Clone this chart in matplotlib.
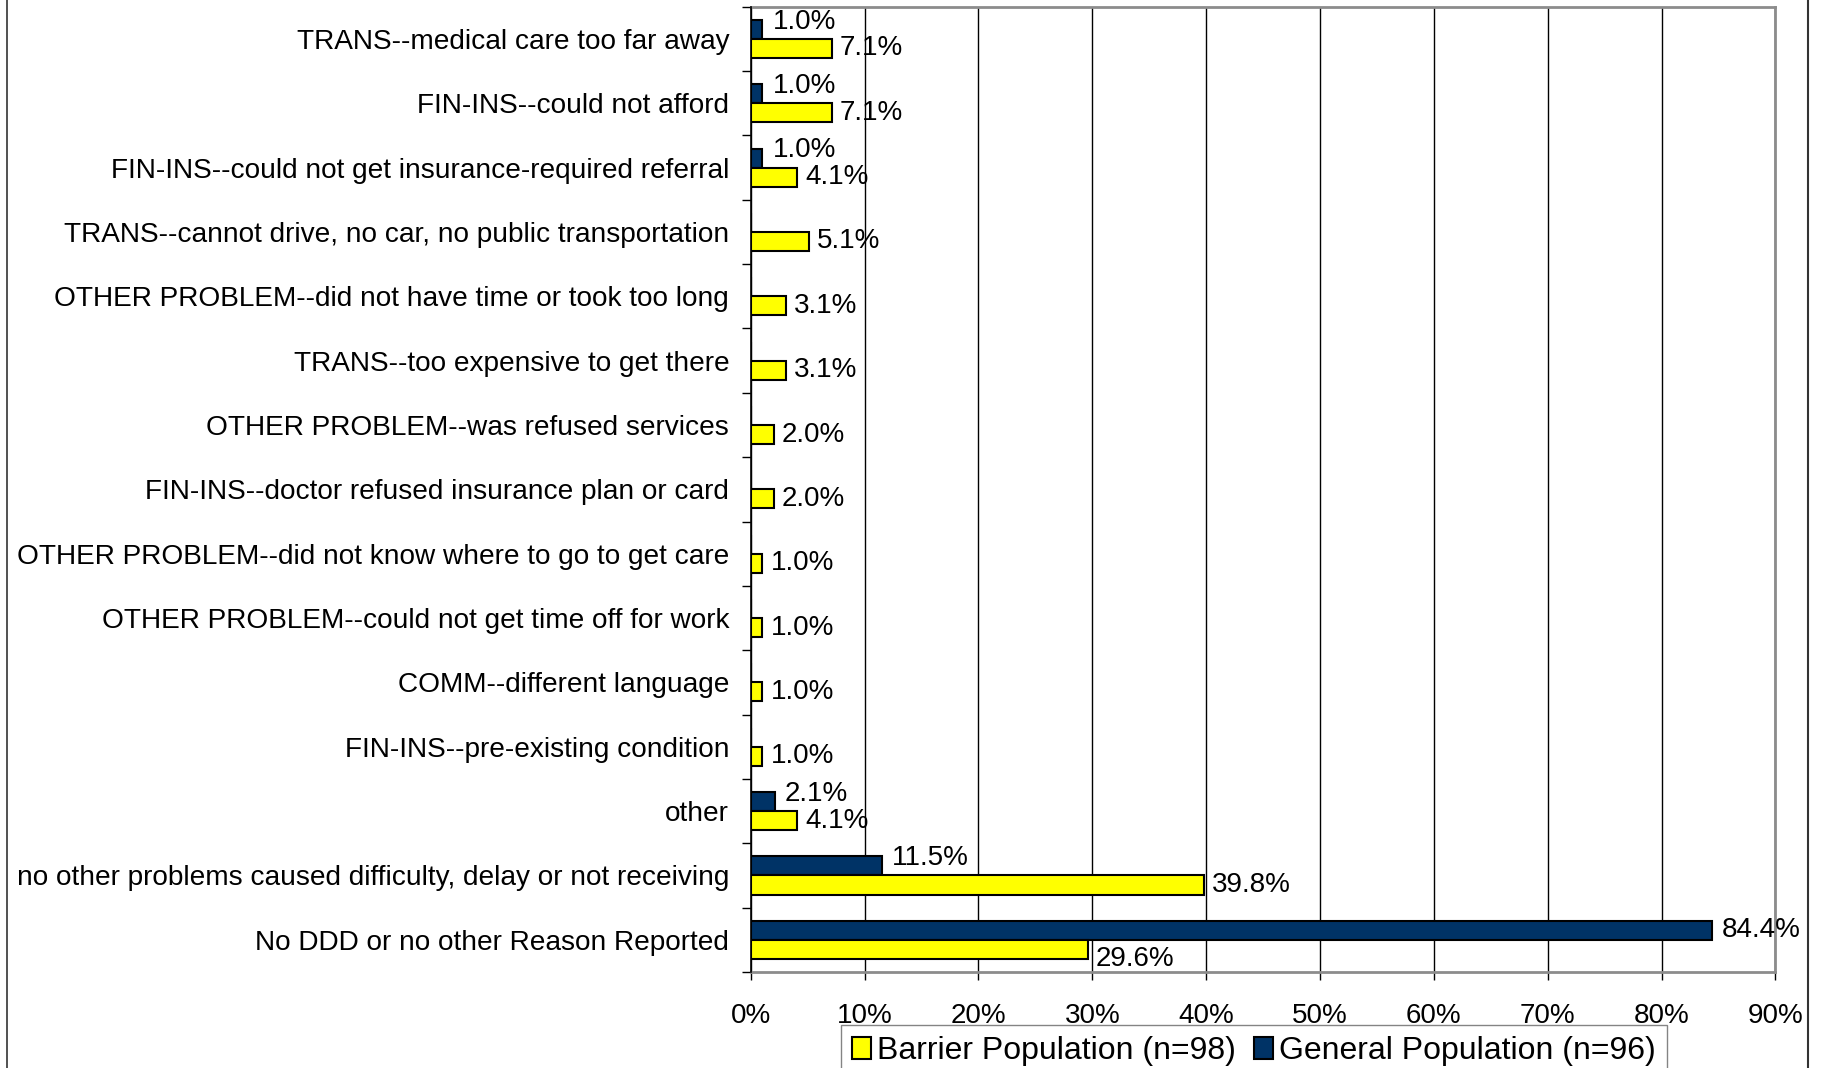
import matplotlib
matplotlib.use("Agg")
import matplotlib.pyplot as plt
from matplotlib.lines import Line2D
import numpy as np

plt.rcParams["font.family"] = ["Liberation Sans", "DejaVu Sans"]

categories = [
    "TRANS--medical care too far away",
    "FIN-INS--could not afford",
    "FIN-INS--could not get insurance-required referral",
    "TRANS--cannot drive, no car, no public transportation",
    "OTHER PROBLEM--did not have time or took too long",
    "TRANS--too expensive to get there",
    "OTHER PROBLEM--was refused services",
    "FIN-INS--doctor refused insurance plan or card",
    "OTHER PROBLEM--did not know where to go to get care",
    "OTHER PROBLEM--could not get time off for work",
    "COMM--different language",
    "FIN-INS--pre-existing condition",
    "other",
    "no other problems caused difficulty, delay or not receiving",
    "No DDD or no other Reason Reported",
]
barrier_pct = [7.1, 7.1, 4.1, 5.1, 3.1, 3.1, 2.0, 2.0, 1.0, 1.0, 1.0, 1.0, 4.1, 39.8, 29.6]
general_pct = [1.0, 1.0, 1.0, 0, 0, 0, 0, 0, 0, 0, 0, 0, 2.1, 11.5, 84.4]
x_ticks = [0, 10, 20, 30, 40, 50, 60, 70, 80, 90]

series_labels = ["Barrier Population (n=98)", "General Population (n=96)"]
YELLOW = "#FFFF00"
NAVY = "#003366"
FS = 20

fig = plt.figure(figsize=(18.24, 10.68), dpi=100)
ax = fig.add_axes([0.4116, 0.0899, 0.5618, 0.9038])

y = np.arange(len(categories))
h = 0.296
gen = np.array(general_pct, dtype=float)
bar = np.array(barrier_pct, dtype=float)

ax.barh(y - h / 2, gen, height=h, color=NAVY, edgecolor="black", linewidth=1.5,
        label=series_labels[1], zorder=3)
ax.barh(y + h / 2, bar, height=h, color=YELLOW, edgecolor="black", linewidth=1.5,
        label=series_labels[0], zorder=3)

# value labels (Excel nudges them apart when they would collide)
for i in range(len(categories)):
    g, b = gen[i], bar[i]
    if g > 0:
        dy = 0 if g > b else 5.5
        ax.annotate("{:.1f}%".format(g), (g, y[i] - h / 2), xytext=(7.5, dy),
                    textcoords="offset points", va="center", ha="left", fontsize=FS)
    if b > 0:
        dy = -7 if g > b else 0
        ax.annotate("{:.1f}%".format(b), (b, y[i] + h / 2), xytext=(6, dy),
                    textcoords="offset points", va="center", ha="left", fontsize=FS)

ax.set_xlim(0, 90)
ax.set_ylim(len(categories) - 0.5, -0.5)
ax.set_xticks(x_ticks)
ax.set_xticklabels(["{}%".format(t) for t in x_ticks], fontsize=FS)
ax.set_yticks(y)
ax.set_yticklabels(categories, fontsize=20.2)
ax.set_yticks(np.arange(-0.5, len(categories)), minor=True)
ax.tick_params(axis="y", which="major", length=0, pad=15.5)
ax.tick_params(axis="y", which="minor", length=6.5, width=1, color="black")
ax.tick_params(axis="x", length=6, width=1, color="black", pad=16)

ax.xaxis.grid(True, color="black", linewidth=1.0, zorder=0)
ax.set_axisbelow(True)

ax.spines["left"].set_color("black")
ax.spines["left"].set_linewidth(1.2)
ax.spines["left"].set_zorder(4)
for side in ["top", "right", "bottom"]:
    ax.spines[side].set_color("#8c8c8c")
    ax.spines[side].set_linewidth(2)

# legend below the axis, barrier first
handles, labels = ax.get_legend_handles_labels()
leg = fig.legend(handles[::-1], labels[::-1], loc="upper left",
                 bbox_to_anchor=(840.7 / 1824, 1 - 1025 / 1068), ncol=2,
                 fontsize=23, frameon=True, fancybox=False, borderaxespad=0,
                 handlelength=0.6, handleheight=0.66, handletextpad=0.2,
                 columnspacing=0.55, borderpad=0.35)
leg.get_frame().set_edgecolor("#666666")
leg.get_frame().set_linewidth(1)

# outer frame lines of the original chart area
fig.add_artist(Line2D([7.3 / 1824] * 2, [0, 1], transform=fig.transFigure, color="#333333", lw=1.2))
fig.add_artist(Line2D([1808 / 1824] * 2, [0, 1], transform=fig.transFigure, color="#333333", lw=1.5))

fig.savefig("out.png", dpi=100)
